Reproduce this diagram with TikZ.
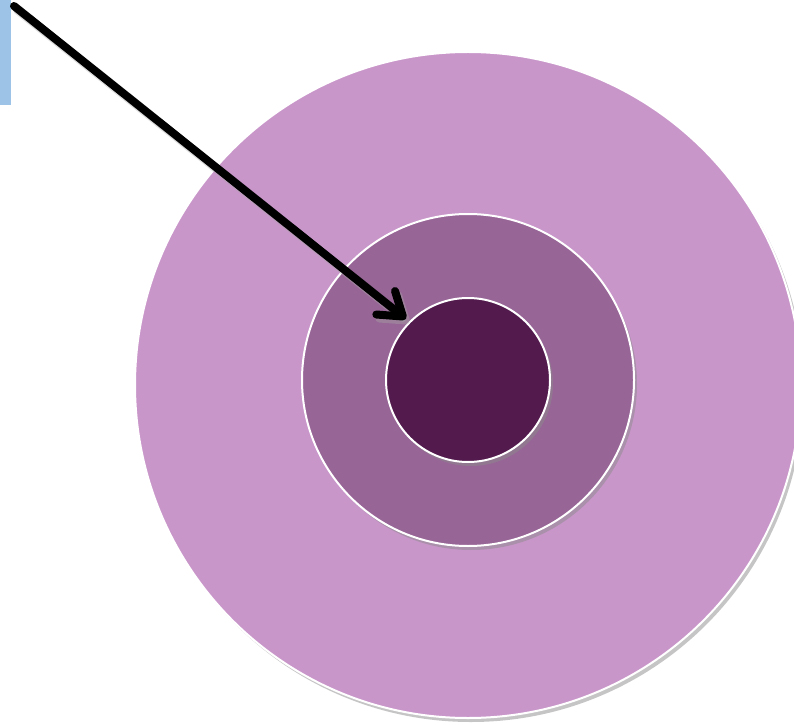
\documentclass[tikz,border=0pt]{standalone}
\usetikzlibrary{arrows.meta,shadows}
\definecolor{outerc}{HTML}{C996CA}
\definecolor{midc}{HTML}{976596}
\definecolor{innerc}{HTML}{521A4D}
\definecolor{boxc}{HTML}{9DC3E6}
\begin{document}
\begin{tikzpicture}[x=1pt,y=1pt,
  ring/.style={draw=white,line width=2pt,drop shadow={shadow xshift=3pt,shadow yshift=-4pt,fill=black!45,opacity=0.5}},
  pointer/.style={line width=8pt,line cap=round,-{Straight Barb[length=22pt,width=30pt,round]}}]
\useasboundingbox (0,0) rectangle (794,724);
\begin{scope}
\clip (0,0) rectangle (794,724);
\fill[boxc] (0,619) rectangle (11,724);
\path[ring,fill=outerc] (468,339) circle (333);
\path[ring,fill=midc] (468,344) circle (166);
\path[ring,fill=innerc] (468,344) circle (82);
\coordinate (start) at (14,718);
\coordinate (tip) at (406,405);
\draw[pointer,black!35,opacity=0.4] ([shift={(3,-4)}]start) -- ([shift={(3,-4)}]tip);
\draw[pointer,black] (start) -- (tip);
\end{scope}
\end{tikzpicture}
\end{document}
